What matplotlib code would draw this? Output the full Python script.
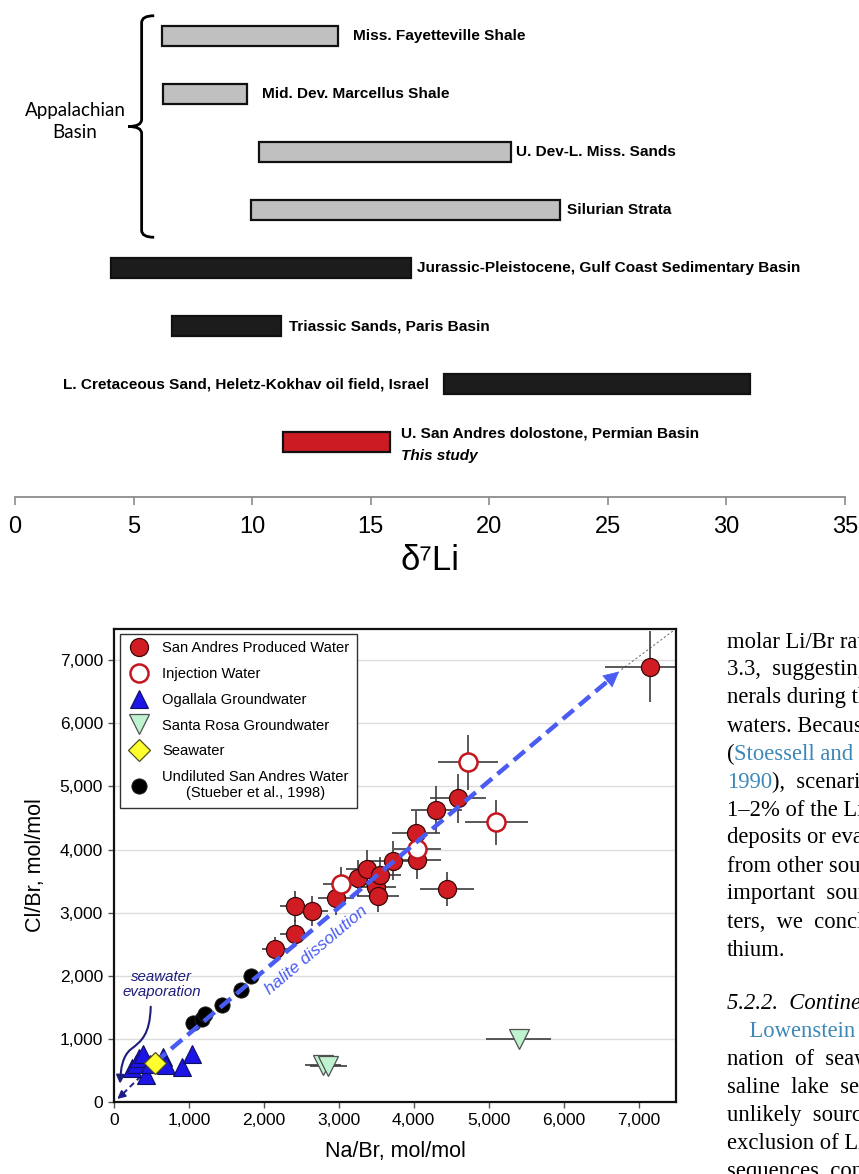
import matplotlib as mpl
import matplotlib.pyplot as plt
from matplotlib.path import Path
from matplotlib.patches import PathPatch, FancyArrowPatch
from matplotlib.ticker import StrMethodFormatter

# ---- top panel: d7Li ranges ----
li_names = ["Miss. Fayetteville Shale", "Mid. Dev. Marcellus Shale",
            "U. Dev-L. Miss. Sands", "Silurian Strata",
            "Jurassic-Pleistocene, Gulf Coast Sedimentary Basin",
            "Triassic Sands, Paris Basin",
            "L. Cretaceous Sand, Heletz-Kokhav oil field, Israel",
            "U. San Andres dolostone, Permian Basin"]
li_min = [6.2, 6.25, 10.3, 9.95, 4.05, 6.6, 18.1, 11.3]
li_max = [13.6, 9.8, 20.9, 23.0, 16.7, 11.2, 31.0, 15.8]
li_group = ["appalachian"] * 4 + ["other"] * 3 + ["this study"]
li_ticks = [0, 5, 10, 15, 20, 25, 30, 35]

# ---- bottom panel: Cl/Br vs Na/Br (mol/mol) ----
sa_nabr = [2150, 2410, 2410, 2640, 2960, 3260, 3370, 3490, 3520, 3550, 3720, 4040, 4030, 4300, 4590, 4440, 7150]
sa_clbr = [2420, 2670, 3100, 3030, 3230, 3550, 3700, 3410, 3270, 3600, 3820, 3840, 4270, 4630, 4810, 3370, 6900]
sa_xerr = [170, 190, 190, 210, 240, 260, 270, 280, 280, 280, 300, 320, 320, 340, 370, 360, 600]
sa_yerr = [190, 210, 250, 240, 260, 280, 300, 270, 260, 290, 310, 310, 340, 370, 390, 270, 560]

inj_nabr = [3030, 4050, 4730, 5100]
inj_clbr = [3450, 4010, 5380, 4430]
inj_xerr = [240, 320, 400, 420]
inj_yerr = [280, 320, 440, 355]

oga_nabr = [240, 300, 330, 390, 430, 480, 650, 700, 910, 1040]
oga_clbr = [540, 610, 690, 760, 420, 600, 720, 580, 560, 760]

sr_nabr = [2790, 2860, 5400]
sr_clbr = [585, 565, 1005]
sr_xerr = [245, 245, 430]

sw_nabr = [545]
sw_clbr = [625]

und_nabr = [1050, 1170, 1210, 1440, 1700, 1830]
und_clbr = [1250, 1320, 1400, 1540, 1780, 1990]

axis_ticks = [0, 1000, 2000, 3000, 4000, 5000, 6000, 7000]

# annotation geometry (data units)
halite_start = (545, 625)
halite_tip = (6770, 6850)
evap_tip = (15, 20)
corner = (7500, 7500)

# page text to the right of the lower figure
BLUE_LINK = "#3d88b8"
page_lines = [
    [("molar Li/Br ratio", "k", "normal")],
    [("3.3,  suggesting", "k", "normal")],
    [("nerals during the", "k", "normal")],
    [("waters. Because", "k", "normal")],
    [("(", "k", "normal"), ("Stoessell and", BLUE_LINK, "normal")],
    [("1990", BLUE_LINK, "normal"), ("),  scenario", "k", "normal")],
    [("1\u20132% of the Li", "k", "normal")],
    [("deposits or evap", "k", "normal")],
    [("from other sour", "k", "normal")],
    [("important  sour", "k", "normal")],
    [("ters,  we  concl", "k", "normal")],
    [("thium.", "k", "normal")],
    None,
    [("5.2.2.  Continental", "k", "italic")],
    [("    Lowenstein", BLUE_LINK, "normal")],
    [("nation  of  seaw", "k", "normal")],
    [("saline  lake  sed", "k", "normal")],
    [("unlikely  sourc", "k", "normal")],
    [("exclusion of Li", "k", "normal")],
    [("sequences  con", "k", "normal")],
]

plt.rcParams['font.family'] = ['Liberation Sans', 'DejaVu Sans']
NARROW = ['Liberation Sans Narrow', 'Liberation Sans', 'DejaVu Sans']

W, H = 859, 1174
fig = plt.figure(figsize=(W / 100, H / 100), dpi=100)


def px_box(left, top, right, bottom):
    return [left / W, 1 - bottom / H, (right - left) / W, (bottom - top) / H]


# ================= top panel =================
ax1 = fig.add_axes(px_box(15, 0, 845, 497))
colors = {"appalachian": "#c0c0c0", "other": "#1c1c1c", "this study": "#cc1b22"}
ypos = list(range(len(li_names)))
ax1.barh(ypos, [b - a for a, b in zip(li_min, li_max)], left=li_min, height=0.345,
         color=[colors[g] for g in li_group], edgecolor="#111111", linewidth=1.6)

label_pad_px = [15, 15, 5, 7, 6, 8, -15, 11]
lab_kw = dict(textcoords='offset points', va='center', fontsize=11.1,
              fontweight='bold', family=NARROW)
for i, name in enumerate(li_names):
    pad = label_pad_px[i] * 0.72
    if pad < 0:
        ax1.annotate(name, (li_min[i], i), xytext=(pad, 0), ha='right', **lab_kw)
    elif i == len(li_names) - 1:
        ax1.annotate(name, (li_max[i], i), xytext=(pad, 6), ha='left', **lab_kw)
        ax1.annotate("This study", (li_max[i], i), xytext=(pad, -10), ha='left',
                     style='italic', **lab_kw)
    else:
        ax1.annotate(name, (li_max[i], i), xytext=(pad, 0), ha='left', **lab_kw)

ax1.set_xlim(0, 35)
ax1.set_ylim(7.948, -0.621)
ax1.set_yticks([])
ax1.set_xticks(li_ticks)
for s in ['left', 'right', 'top']:
    ax1.spines[s].set_visible(False)
ax1.spines['bottom'].set_color('#8c8c8c')
ax1.spines['bottom'].set_linewidth(1.3)
ax1.tick_params(axis='x', direction='out', length=6, width=1.2, color='#8c8c8c',
                labelsize=17, pad=8)
for t in ax1.get_xticklabels():
    t.set_family(NARROW)
ax1.set_xlabel("\u03b4\u2077Li", fontsize=25, family=NARROW, labelpad=4)

# curly brace grouping the Appalachian Basin strata
bx, tip, mid = 5.34, 5.87, 4.78
top, bot, cen = -0.35, 3.47, 1.56
verts = [(tip, top), (bx, top), (bx, top + 0.12),
         (bx, cen - 0.12), (bx, cen), (mid, cen),
         (bx, cen), (bx, cen + 0.12),
         (bx, bot - 0.12), (bx, bot), (tip, bot)]
codes = [Path.MOVETO, Path.CURVE3, Path.CURVE3,
         Path.LINETO, Path.CURVE3, Path.CURVE3,
         Path.CURVE3, Path.CURVE3,
         Path.LINETO, Path.CURVE3, Path.CURVE3]
ax1.add_patch(PathPatch(Path(verts, codes), fill=False, lw=2, edgecolor='black',
                        clip_on=False))
ax1.text(2.53, 1.48, "Appalachian\nBasin", ha='center', va='center', fontsize=13.5,
         family=['Lato', 'DejaVu Sans'], linespacing=1.35)

# ================= bottom panel =================
ax2 = fig.add_axes(px_box(114, 628.7, 676, 1102))

ax2.plot([halite_tip[0], corner[0]], [halite_tip[1], corner[1]], ls=(0, (2, 2)),
         color='#777777', lw=0.8, zorder=1)
ax2.plot([halite_start[0], evap_tip[0] + 60], [halite_start[1], evap_tip[1] + 60],
         ls=(0, (3, 2)), color='#1d1d8a', lw=1.4, zorder=1.5)
ax2.annotate('', xy=evap_tip, xytext=(evap_tip[0] + 150, evap_tip[1] + 150),
             arrowprops=dict(arrowstyle='-|>', color='#1d1d8a', lw=1.2, mutation_scale=12),
             zorder=1.5)

ax2.errorbar(sa_nabr, sa_clbr, xerr=sa_xerr, yerr=sa_yerr, fmt='none',
             ecolor='#3c3c3c', elinewidth=1.2, capsize=0, zorder=2)
ax2.errorbar(inj_nabr, inj_clbr, xerr=inj_xerr, yerr=inj_yerr, fmt='none',
             ecolor='#3c3c3c', elinewidth=1.2, capsize=0, zorder=2)
ax2.errorbar(sr_nabr, sr_clbr, xerr=sr_xerr, fmt='none',
             ecolor='#3c3c3c', elinewidth=1.2, capsize=0, zorder=2)

h_sa, = ax2.plot(sa_nabr, sa_clbr, 'o', ms=13, mfc='#d01c22', mec='#3a0808', mew=0.9,
                 ls='none', zorder=4, label='San Andres Produced Water')
h_inj, = ax2.plot(inj_nabr, inj_clbr, 'o', ms=13, mfc='white', mec='#c4161e', mew=1.8,
                  ls='none', zorder=4, label='Injection Water')
h_oga, = ax2.plot(oga_nabr, oga_clbr, '^', ms=13, mfc='#1d14e6', mec='#101060', mew=0.8,
                  ls='none', zorder=3, label='Ogallala Groundwater')
h_sr, = ax2.plot(sr_nabr, sr_clbr, 'v', ms=14, mfc='#bff2cf', mec='#505050', mew=0.9,
                 ls='none', zorder=3, label='Santa Rosa Groundwater')
h_sw, = ax2.plot(sw_nabr, sw_clbr, 'D', ms=11, mfc='#ffff2e', mec='#505020', mew=0.9,
                 ls='none', zorder=5, label='Seawater')
h_und, = ax2.plot(und_nabr, und_clbr, 'o', ms=11, mfc='black', mec='#222222', mew=0.6,
                  ls='none', zorder=3,
                  label='Undiluted San Andres Water\n(Stueber et al., 1998)')

# halite dissolution arrow
ax2.plot([halite_start[0], halite_tip[0] - 120], [halite_start[1], halite_tip[1] - 120],
         ls=(0, (3.2, 1.6)), color='#4a5cf2', lw=3.2, zorder=4.5)
ax2.annotate('', xy=halite_tip, xytext=(halite_tip[0] - 300, halite_tip[1] - 300),
             arrowprops=dict(arrowstyle='-|>', color='#4a5cf2', lw=0.5, mutation_scale=26),
             zorder=4.5)
ax2.text(2700, 2400, "halite dissolution", rotation=45, transform_rotates_text=True,
         rotation_mode='anchor', ha='center', va='center', style='italic',
         color='#4a5cf2', fontsize=12.5, zorder=6)

# seawater evaporation
ax2.text(640, 1860, "seawater\nevaporation", ha='center', va='center', style='italic',
         color='#1d1d7a', fontsize=10.8, linespacing=1.05, zorder=6)
evap_path = Path([(490, 1510), (480, 1060), (360, 960), (230, 840),
                  (110, 730), (90, 520), (80, 290)],
                 [Path.MOVETO, Path.CURVE4, Path.CURVE4, Path.CURVE4,
                  Path.CURVE4, Path.CURVE4, Path.CURVE4])
ax2.add_patch(FancyArrowPatch(path=evap_path, arrowstyle='-|>', mutation_scale=12,
                              color='#1d1d7a', lw=1.5, zorder=6))

ax2.set_xlim(0, 7500)
ax2.set_ylim(0, 7500)
ax2.set_xticks(axis_ticks)
ax2.set_yticks(axis_ticks)
ax2.xaxis.set_major_formatter(StrMethodFormatter('{x:,.0f}'))
ax2.yaxis.set_major_formatter(StrMethodFormatter('{x:,.0f}'))
ax2.yaxis.grid(True, color='#dddddd', lw=1)
ax2.set_axisbelow(True)
for s in ax2.spines.values():
    s.set_linewidth(1.6)
    s.set_color('#111111')
ax2.tick_params(direction='out', length=4, width=1, color='#555555', labelsize=12.5, pad=4)
ax2.set_xlabel("Na/Br, mol/mol", fontsize=15.5, labelpad=9)
ax2.set_ylabel("Cl/Br, mol/mol", fontsize=15.5, labelpad=10)

leg = ax2.legend(handles=[h_sa, h_inj, h_oga, h_sr, h_sw, h_und], loc='upper left',
                 bbox_to_anchor=(0.0107, 0.989), borderaxespad=0, fontsize=10.6,
                 labelspacing=0.8, handlelength=1.6, handletextpad=0.75, borderpad=0.5,
                 fancybox=False, framealpha=1, edgecolor='#333333')
leg.get_frame().set_linewidth(1.0)
leg.get_texts()[-1].set_multialignment('center')

# page text column
renderer = fig.canvas.get_renderer()
y = 642
for line in page_lines:
    if line is None:
        y += 28 * 0.9
        continue
    x = 727
    for s, c, st in line:
        t = fig.text(x / W, 1 - y / H, s, color=c, style=st, fontsize=16.3,
                     family=['Liberation Serif', 'DejaVu Serif'], va='center', ha='left')
        x += t.get_window_extent(renderer).width
    y += 28

fig.savefig("out.png", dpi=100)
